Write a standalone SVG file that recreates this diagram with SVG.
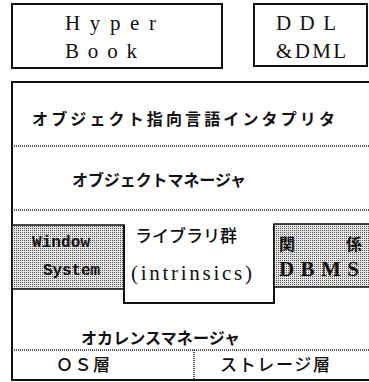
<svg xmlns="http://www.w3.org/2000/svg" width="369" height="382" viewBox="0 0 369 382">
<style>
.box{fill:none;stroke:#111;stroke-width:2}
.ln{fill:none;stroke:#111;stroke-width:2}
.dot{fill:none;stroke:#222;stroke-width:1.5;stroke-dasharray:1 1}
.shade{fill:url(#dots);stroke:#111;stroke-width:1.5}
.ser{font-family:"Liberation Serif","Noto Sans CJK JP",serif;font-size:21px;fill:#111}
.jp{font-family:"Noto Sans CJK JP",sans-serif;font-weight:bold;font-size:16px;fill:#111}
.jpr{font-family:"Noto Sans CJK JP",sans-serif;font-weight:500;font-size:17px;fill:#111}
.mono{font-family:"Liberation Mono","DejaVu Sans Mono",monospace;font-size:16px;fill:#111}
</style>
<defs>
<pattern id="dots" width="2" height="2" patternUnits="userSpaceOnUse">
<rect width="2" height="2" fill="#e6e6e6"/>
<rect width="1" height="1" fill="#555"/>
</pattern>
</defs>
<g id="hyperbook">
<rect class="box" x="12" y="4" width="210" height="64"/>
<text class="ser" x="65" y="30" textLength="91" lengthAdjust="spacing">Hyper</text>
<text class="ser" x="65" y="58" textLength="72" lengthAdjust="spacing">Book</text>
</g>
<g id="ddl">
<rect class="box" x="254" y="4" width="113" height="62"/>
<text class="ser" x="276" y="30" textLength="60" lengthAdjust="spacing">DDL</text>
<text class="ser" x="276" y="58" textLength="70" lengthAdjust="spacing">&amp;DML</text>
</g>
<g id="connectors">
<path class="ln" d="M369,82 H12 V380 H369"/>
<line class="dot" x1="12" y1="146" x2="369" y2="146"/>
<line class="dot" x1="12" y1="210" x2="369" y2="210"/>
<line class="dot" x1="12" y1="350" x2="369" y2="350"/>
<line class="dot" x1="194" y1="350" x2="194" y2="380"/>
</g>
<g id="interpreter">
<text class="jp" x="32" y="125" font-size="17" textLength="303" lengthAdjust="spacing">オブジェクト指向言語インタプリタ</text>
</g>
<g id="objmanager">
<text class="jp" x="72" y="186" textLength="174" lengthAdjust="spacing">オブジェクトマネージャ</text>
</g>
<g id="window">
<rect class="shade" x="12" y="225" width="112" height="64"/>
<text class="mono" x="32" y="247" font-weight="bold" textLength="58" lengthAdjust="spacing">Window</text>
<text class="mono" x="43" y="275" font-weight="bold" textLength="57" lengthAdjust="spacing">System</text>
</g>
<g id="library">
<path class="ln" d="M124,225 V303 H274 V224"/>
<text class="jpr" x="135" y="242" font-size="15">ライブラリ群</text>
<text class="ser" x="131" y="280" font-size="17" textLength="121" lengthAdjust="spacing">(intrinsics)</text>
</g>
<g id="dbms">
<rect class="shade" x="274" y="224" width="100" height="63"/>
<text class="jp" x="279" y="250" font-size="17">関</text>
<text class="jp" x="346" y="250" font-size="17">係</text>
<text class="ser" x="279" y="276" font-weight="bold" font-size="18" textLength="80" lengthAdjust="spacing">DBMS</text>
</g>
<g id="occurrence">
<text class="jp" x="81" y="344" textLength="159" lengthAdjust="spacing">オカレンスマネージャ</text>
</g>
<g id="os">
<text class="jpr" x="56" y="371" textLength="54" lengthAdjust="spacing">ＯＳ層</text>
</g>
<g id="storage">
<text class="jpr" x="220" y="371" textLength="110" lengthAdjust="spacing">ストレージ層</text>
</g>
</svg>
